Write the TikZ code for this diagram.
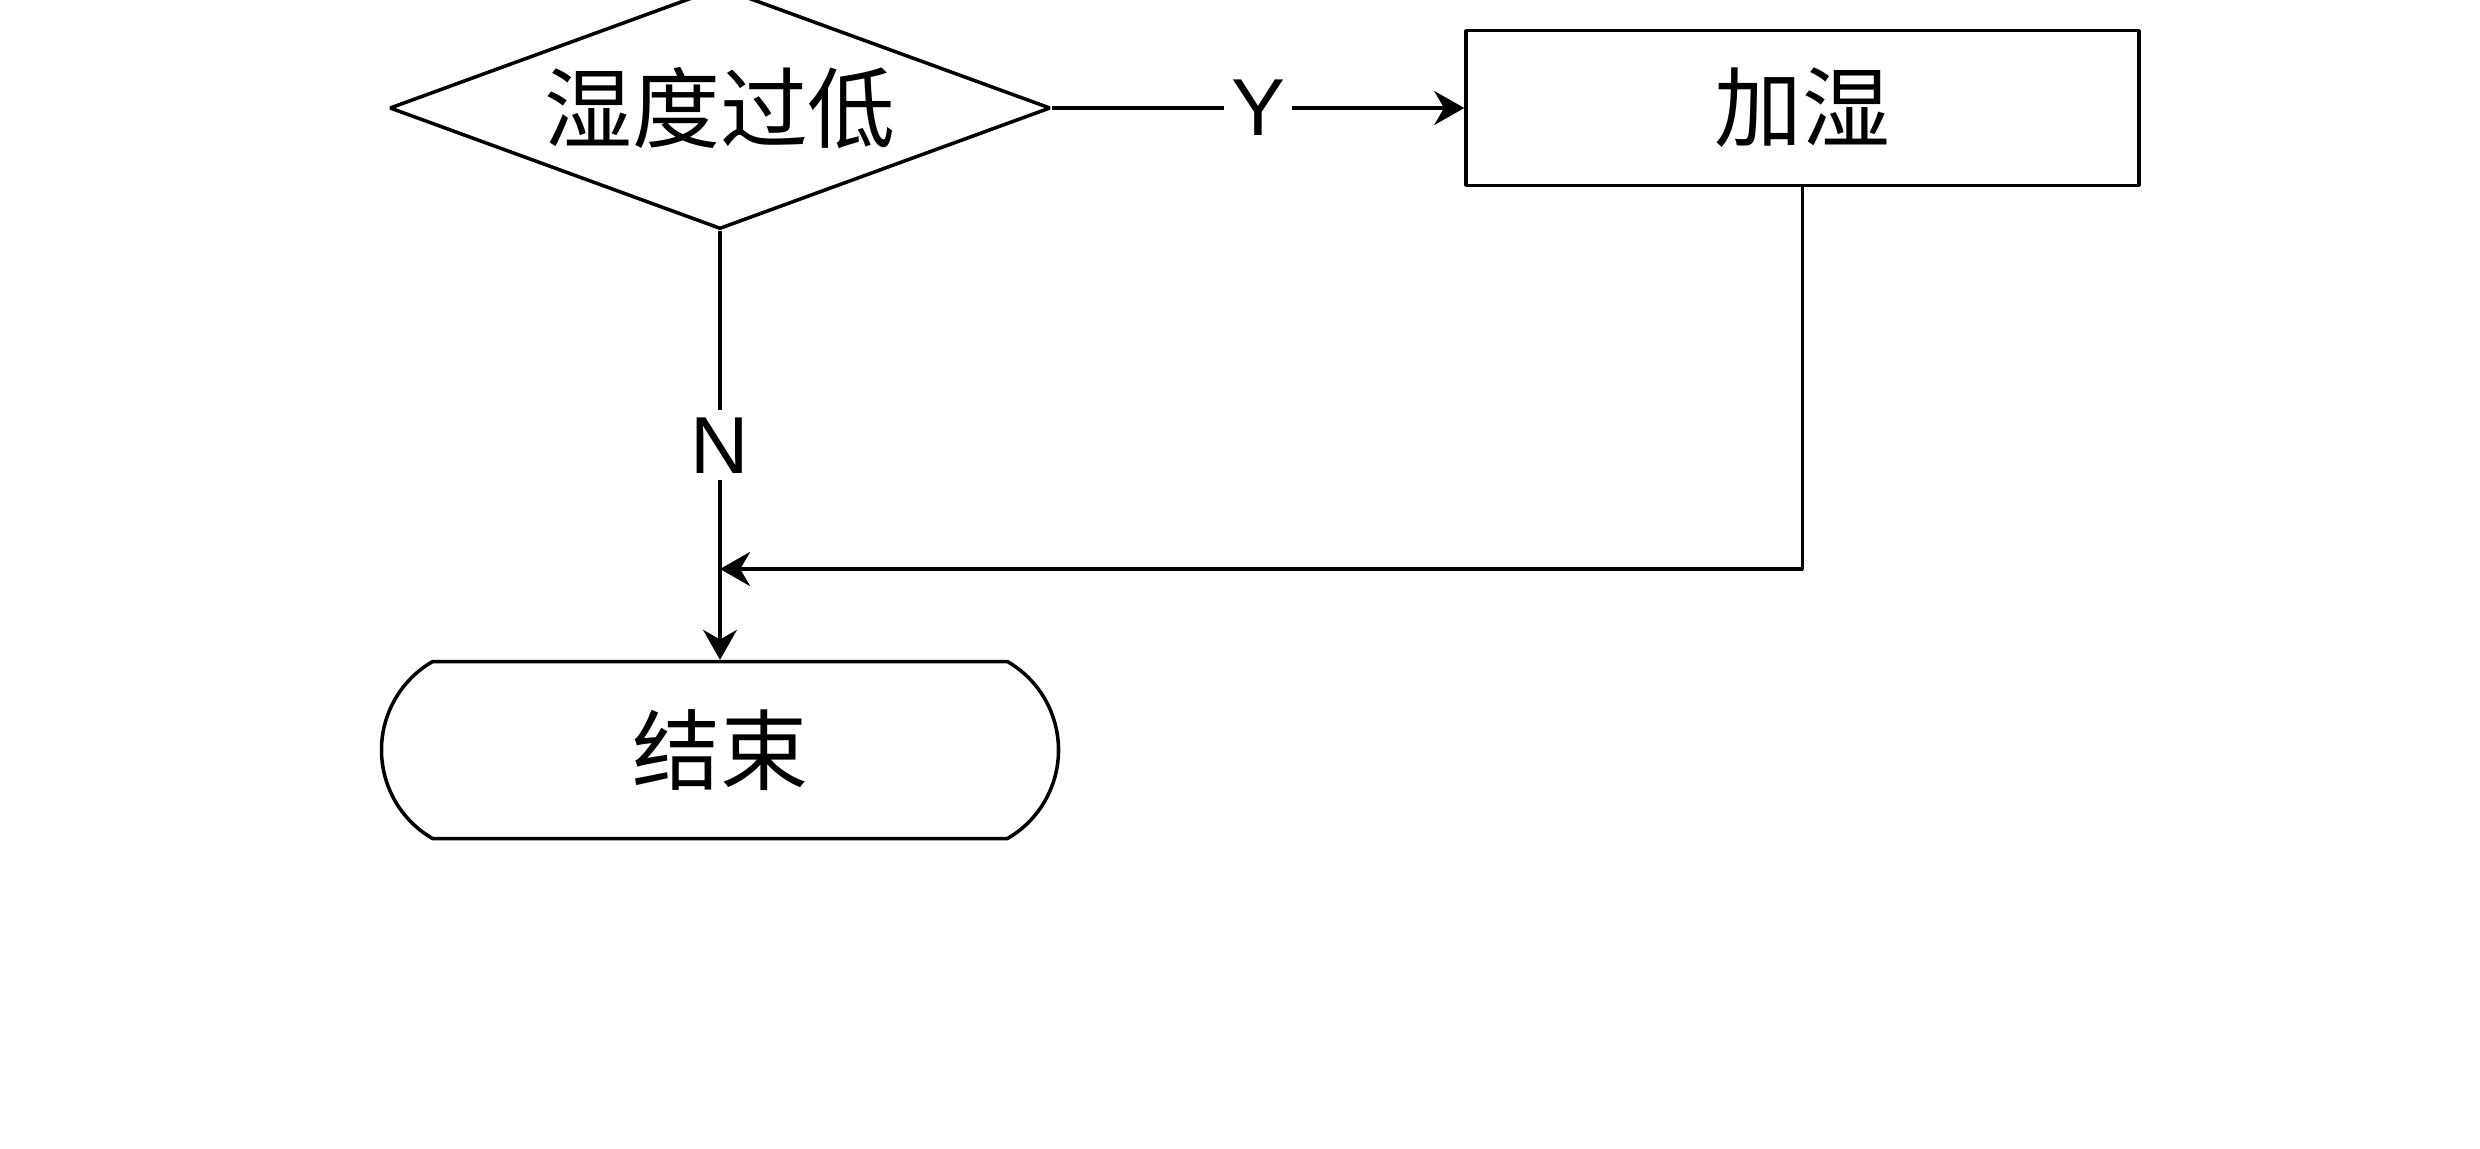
\documentclass[tikz,border=0pt]{standalone}
\usepackage{fontspec}
\setsansfont{Liberation Sans}
\newfontfamily\cjkfont{Noto Sans CJK SC}
\usepackage{tikz}
\usetikzlibrary{arrows.meta, shapes, positioning}
\usepackage{xcolor}
\tikzset{flowline/.style={draw=black, line width=1pt}, flowarrow/.style={flowline, -{Stealth[length=3mm, width=3.4mm]}}}
\begin{document}
\begin{tikzpicture}[
        line join=bevel,
        decisionnode/.style={diamond, draw=black, line width=1pt, aspect=2.73, inner sep=0pt, minimum width=6.61cm, minimum height=2.42cm, font=\cjkfont\fontsize{25pt}{30pt}\selectfont},
        processnode/.style={rectangle, draw=black, line width=1pt, inner sep=0pt, minimum width=6.73cm, minimum height=1.55cm, font=\cjkfont\fontsize{25pt}{30pt}\selectfont},
        terminalnode/.style={rounded rectangle, rounded rectangle arc length=120, draw=black, line width=1pt, inner sep=0pt, minimum width=6.77cm, minimum height=1.77cm, font=\cjkfont\fontsize{25pt}{30pt}\selectfont},
        branchlabel/.style={fill=white, inner sep=2pt, font=\sffamily\fontsize{23pt}{27pt}\selectfont},
    ]
        % Frame
        \useasboundingbox (0, 0) rectangle (24.8, -11.48);
        % Nodes
        \node [decisionnode] (lowhum) at (7.20, -1.08) {湿度过低};
        \node [processnode, right=4.12cm of lowhum] (humidify) {加湿};
        \node [terminalnode, below=4.29cm of lowhum] (finish) {结束};
        \coordinate (merge) at (7.20, -5.69);
        % Lines
        \draw[flowarrow] (lowhum.east) -- node[branchlabel] {Y} (humidify.west);
        \draw[flowarrow] (lowhum.south) -- node[branchlabel] {N} (finish.north);
        \draw[flowarrow] (humidify.south) |- (merge);
    \end{tikzpicture}
\end{document}
